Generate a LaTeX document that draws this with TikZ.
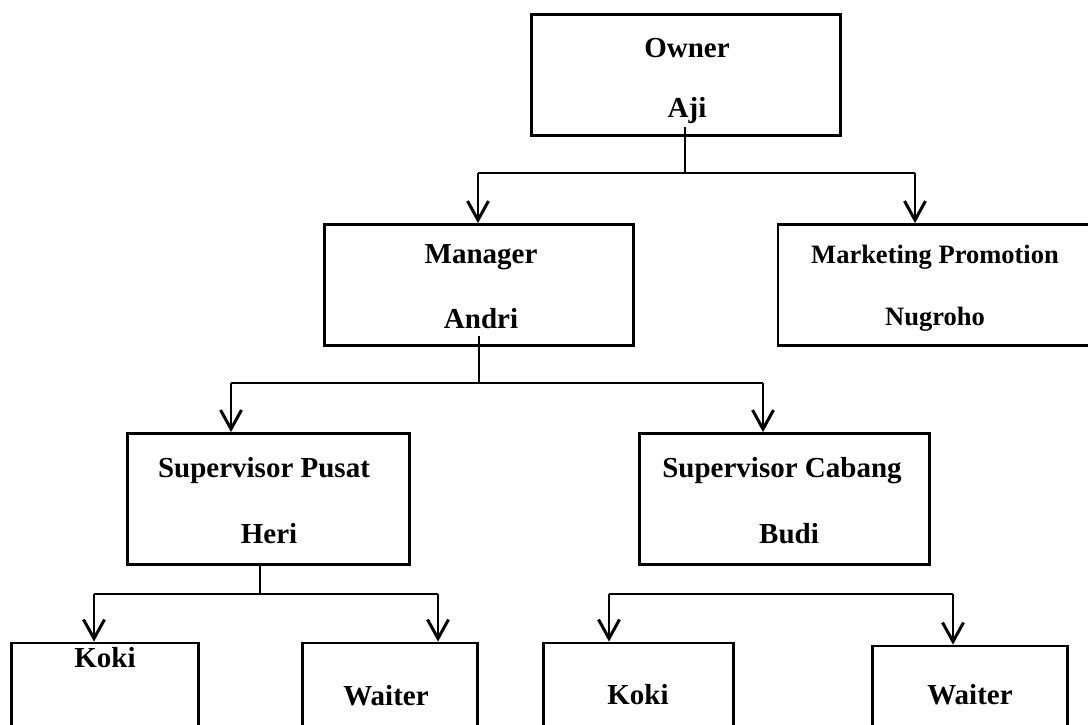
\documentclass[tikz,border=0pt]{standalone}
\usepackage{fontspec}
\setmainfont{Liberation Serif}
\usetikzlibrary{arrows.meta}
\begin{document}
\begin{tikzpicture}[x=1pt,y=-1pt,
  box/.style={draw=black,line width=2.8pt,rectangle,inner sep=0pt},
  lbl/.style={anchor=base,inner sep=0pt,font=\fontsize{29}{34}\selectfont\bfseries},
  lblsm/.style={anchor=base,inner sep=0pt,font=\fontsize{26.5}{32}\selectfont\bfseries},
  link/.style={draw=black,line width=1.2pt},
  arr/.style={link,-{Straight Barb[length=19pt,width=21pt,line width=3pt]}}]
\clip (0,0) rectangle (1088,724);
\fill[white] (0,0) rectangle (1088,724);

% boxes
\node[box,minimum width=309pt,minimum height=121pt] (owner) at (686,75) {};
\node[box,minimum width=309pt,minimum height=121pt] (mgr) at (479,285) {};
\node[box,minimum width=316pt,minimum height=121pt] (mkt) at (936,285) {};
\node[box,minimum width=282pt,minimum height=131pt] (sp) at (268.5,499) {};
\node[box,minimum width=290pt,minimum height=131pt] (sc) at (784.5,499) {};
\node[box,minimum width=187pt,minimum height=137pt] (koki1) at (105,711.5) {};
\node[box,minimum width=175pt,minimum height=137pt] (waiter1) at (390,711.5) {};
\node[box,minimum width=190pt,minimum height=137pt] (koki2) at (638.5,711.5) {};
\node[box,minimum width=195pt,minimum height=134pt] (waiter2) at (970,713) {};

% labels
\node[lbl] (ownerT) at (687,57) {Owner};
\node[lbl] (ownerN) at (687,117) {Aji};
\node[lbl] (mgrT) at (481,263) {Manager};
\node[lbl] (mgrN) at (481,328) {Andri};
\node[lblsm] (mktT) at (935,263) {Marketing Promotion};
\node[lblsm] (mktN) at (935,325) {Nugroho};
\node[lbl] (spT) at (264,477) {Supervisor Pusat};
\node[lbl] (spN) at (269,543) {Heri};
\node[lbl] (scT) at (782,477) {Supervisor Cabang};
\node[lbl] (scN) at (789,543) {Budi};
\node[lbl] (koki1T) at (105,667) {Koki};
\node[lbl] (waiter1T) at (386,705) {Waiter};
\node[lbl] (koki2T) at (638,704) {Koki};
\node[lbl] (waiter2T) at (970,704) {Waiter};

% junction coordinates
\coordinate (o0) at (685,127);
\coordinate (o1) at (685,173);
\coordinate (oL) at (478,173);
\coordinate (oR) at (915,173);
\coordinate (m0) at (479,336);
\coordinate (m1) at (479,383);
\coordinate (mL) at (231,383);
\coordinate (mR) at (763,383);
\coordinate (s1) at (260,594);
\coordinate (sL) at (94,594);
\coordinate (sR) at (438,594);
\coordinate (cL) at (609,594);
\coordinate (cR) at (953,594);

% connectors
\draw[link] (o0) -- (o1);
\draw[link] (oL) -- (oR);
\draw[arr] (oL) -- (mgr.north -| oL);
\draw[arr] (oR) -- (mkt.north -| oR);

\draw[link] (m0) -- (m1);
\draw[link] (mL) -- (mR);
\draw[arr] (mL) -- (sp.north -| mL);
\draw[arr] (mR) -- (sc.north -| mR);

\draw[link] (sp.south -| s1) -- (s1);
\draw[link] (sL) -- (sR);
\draw[arr] (sL) -- (koki1.north -| sL);
\draw[arr] (sR) -- (waiter1.north -| sR);

\draw[link] (cL) -- (cR);
\draw[arr] (cL) -- (koki2.north -| cL);
\draw[arr] (cR) -- (waiter2.north -| cR);
\end{tikzpicture}
\end{document}
